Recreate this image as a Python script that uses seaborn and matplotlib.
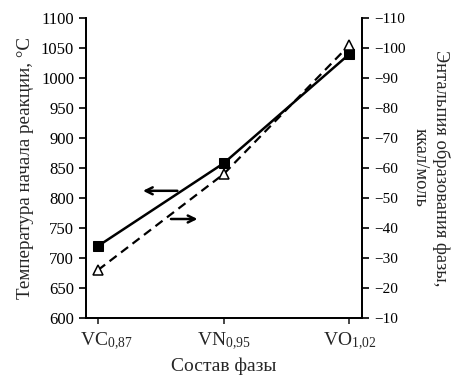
import matplotlib
matplotlib.use("Agg")
import matplotlib.pyplot as plt
import matplotlib.transforms as mtransforms
import seaborn as sns
import pandas as pd

# Phases and measured values
phases = [r"VC$_{\mathrm{0{,}87}}$", r"VN$_{\mathrm{0{,}95}}$", r"VO$_{\mathrm{1{,}02}}$"]
temperature = [720, 858, 1040]          # reaction onset temperature, °C
enthalpy = [-26, -58, -101]             # formation enthalpy, kcal/mol
left_ticks = [600, 650, 700, 750, 800, 850, 900, 950, 1000, 1050, 1100]
right_ticks = [-10, -20, -30, -40, -50, -60, -70, -80, -90, -100, -110]

sns.set_style("ticks")
plt.rcParams["font.family"] = ["Liberation Serif", "DejaVu Serif"]
plt.rcParams["mathtext.fontset"] = "custom"
plt.rcParams["mathtext.rm"] = "Liberation Serif"
plt.rcParams["mathtext.it"] = "Liberation Serif:italic"
plt.rcParams["axes.unicode_minus"] = True

df = pd.DataFrame({"x": range(len(phases)), "t": temperature, "h": enthalpy})

fig = plt.figure(figsize=(4.54, 3.78), dpi=100)
ax = fig.add_axes([86 / 454, 1 - 318 / 378, (362 - 86) / 454, 300 / 378])

sns.lineplot(data=df, x="x", y="t", ax=ax, color="black", lw=1.8,
             marker="s", markersize=7, markerfacecolor="black",
             markeredgecolor="black")
ax.set_xlim(-0.096, 2.1)
ax.set_ylim(600, 1100)
ax.set_yticks(left_ticks)
ax.set_xticks(range(len(phases)))
ax.set_xticklabels(phases, fontsize=14)
ax.tick_params(axis="y", labelsize=12, direction="out", length=5, width=1.2, colors="black")
ax.tick_params(axis="x", direction="out", length=4, width=1.2, pad=5)
# first category label sits slightly to the right of its tick
first = ax.get_xticklabels()[0]
first.set_transform(first.get_transform() +
                    mtransforms.ScaledTranslation(8 / 100, 0, fig.dpi_scale_trans))
ax.set_xlabel("Состав фазы", fontsize=14, labelpad=4)
ax.set_ylabel("Температура начала реакции, °C", fontsize=13.7, labelpad=5)
for s in ["left", "bottom", "right"]:
    ax.spines[s].set_linewidth(1.3)
    ax.spines[s].set_color("black")
ax.spines["top"].set_visible(False)

ax2 = ax.twinx()
sns.lineplot(data=df, x="x", y="h", ax=ax2, color="black", lw=1.6,
             linestyle=(0, (4, 2.5)), marker="^", markersize=7,
             markerfacecolor="white", markeredgecolor="black",
             markeredgewidth=1.1)
ax2.set_ylim(-10, -110)
ax2.set_yticks(right_ticks)
ax2.tick_params(axis="y", labelsize=11, direction="out", length=5, width=1.2, colors="black")
ax2.set_ylabel("Энтальпия образования фазы,\nккал/моль", fontsize=13.3,
               rotation=270, labelpad=32, linespacing=1.25)
for s in ["left", "bottom", "right"]:
    ax2.spines[s].set_linewidth(1.3)
    ax2.spines[s].set_color("black")
ax2.spines["top"].set_visible(False)

# Arrows pointing to the axis each curve refers to
ax.annotate("", xy=(0.335, 812), xytext=(0.653, 812),
            arrowprops=dict(arrowstyle="->,head_length=0.5,head_width=0.25",
                            color="black", lw=1.8))
ax.annotate("", xy=(0.813, 765), xytext=(0.558, 765),
            arrowprops=dict(arrowstyle="->,head_length=0.5,head_width=0.25",
                            color="black", lw=1.8))

fig.savefig("out.png", dpi=100)
